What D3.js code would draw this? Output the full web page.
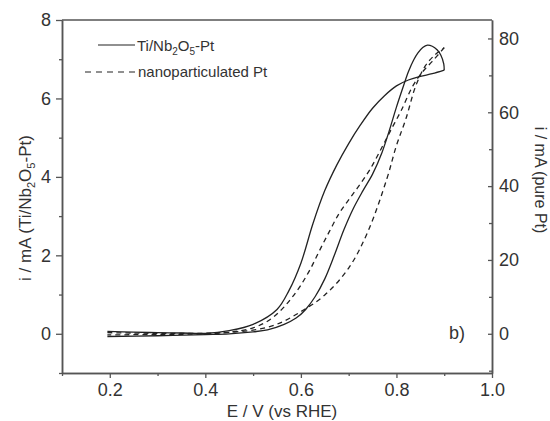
<!DOCTYPE html>
<html>
<head>
<meta charset="utf-8">
<script src="https://cdn.jsdelivr.net/npm/d3@7"></script>
<style>
    body { margin: 0; background: #fff; }
    text { font-family: "Liberation Sans", Arial, sans-serif; fill: #333; }
</style>
</head>
<body>
<div id="chart"></div>
<script>
// Ti/Nb2O5-Pt voltammogram, [E (V vs RHE), i (mA)] - left axis
const tiForward = [[0.195,0.06],[0.25,0.04],[0.3,0.03],[0.35,0.02],[0.4,0.01],[0.45,0.08],[0.5,0.24],
    [0.55,0.62],[0.575,1.1],[0.6,1.8],[0.625,2.8],[0.65,3.65],[0.675,4.3],[0.7,4.85],[0.725,5.33],
    [0.75,5.75],[0.775,6.07],[0.8,6.32],[0.825,6.47],[0.85,6.56],[0.875,6.63],[0.9,6.72]];
const tiReturn = [[0.9,6.72],[0.899,6.88],[0.893,7.1],[0.885,7.24],[0.875,7.33],[0.865,7.36],[0.855,7.3],
    [0.845,7.16],[0.836,6.98],[0.825,6.68],[0.815,6.33],[0.8,5.78],[0.785,5.18],[0.77,4.63],[0.75,4.07],
    [0.73,3.65],[0.71,3.2],[0.69,2.65],[0.67,2.0],[0.65,1.4],[0.63,0.95],[0.61,0.62],[0.59,0.4],
    [0.565,0.24],[0.53,0.1],[0.5,0.05],[0.45,0.0],[0.4,-0.02],[0.3,-0.05],[0.195,-0.07]];

// nanoparticulated Pt voltammogram, [E, i (mA)] - right axis
const ptForward = [[0.195,0.3],[0.25,0.2],[0.3,0.1],[0.35,0.1],[0.4,0.15],[0.45,0.4],[0.5,1.0],
    [0.55,2.6],[0.6,6.0],[0.65,10.5],[0.7,17.8],[0.74,27.6],[0.78,42],[0.8,51],[0.82,58.3],
    [0.84,67],[0.86,72.5],[0.88,75.5],[0.9,77.5]];
const ptReturn = [[0.9,77.5],[0.875,73.8],[0.855,71],[0.835,67.3],[0.81,60.5],[0.79,55.6],[0.77,50.6],
    [0.745,44.6],[0.72,39.8],[0.7,36.3],[0.68,32.6],[0.66,27.8],[0.64,22.8],[0.62,17.6],[0.6,13.2],
    [0.58,9.6],[0.56,6.6],[0.535,3.8],[0.5,1.6],[0.45,0.4],[0.4,0],[0.3,-0.2],[0.195,-0.3]];

// tick values
const xTicks = [0.2, 0.4, 0.6, 0.8, 1.0];
const xMinor = [0.1, 0.3, 0.5, 0.7, 0.9];
const leftTicks = [0, 2, 4, 6, 8];
const leftMinor = [-1, 1, 3, 5, 7];
const rightTicks = [0, 20, 40, 60, 80];
const rightMinor = [-10, 10, 30, 50, 70];

//chart size
const width = 550;
const height = 421;
const margin = {top: 20, right: 58, bottom: 48, left: 62};

const svg = d3.select("#chart")
    .append("svg")
        .attr("width", width)
        .attr("height", height);

//scales
const x = d3.scaleLinear()
    .domain([0.1, 1.0])
    .range([margin.left, width - margin.right]);
const yLeft = d3.scaleLinear()
    .domain([-1, 8])
    .range([height - margin.bottom, margin.top]);
const yRight = d3.scaleLinear()
    .domain([-10.625, 85])
    .range([height - margin.bottom, margin.top]);

const axisColor = "#555";

//frame top line
svg.append("line")
    .attr("x1", margin.left).attr("x2", width - margin.right)
    .attr("y1", margin.top).attr("y2", margin.top)
    .attr("stroke", axisColor)
    .attr("stroke-width", 1.5);

//helper to style an axis group
function styleAxis(g) {
    g.select(".domain").attr("stroke", axisColor).attr("stroke-width", 1.5);
    g.selectAll(".tick line").attr("stroke", axisColor).attr("stroke-width", 1.3);
    g.selectAll(".tick text")
        .attr("fill", "#333")
        .style("font-size", "18px")
        .style("font-family", "'Liberation Sans', Arial, sans-serif");
}

//bottom axis
svg.append("g")
    .attr("transform", `translate(0, ${height - margin.bottom})`)
    .call(d3.axisBottom(x).tickValues(xMinor).tickSize(3).tickFormat("").tickSizeOuter(0))
    .call(styleAxis);
svg.append("g")
    .attr("transform", `translate(0, ${height - margin.bottom})`)
    .call(d3.axisBottom(x).tickValues(xTicks).tickSize(5).tickPadding(5).tickFormat(d3.format(".1f")).tickSizeOuter(0))
    .call(styleAxis);

//left axis
svg.append("g")
    .attr("transform", `translate(${margin.left}, 0)`)
    .call(d3.axisLeft(yLeft).tickValues(leftMinor).tickSize(3).tickFormat("").tickSizeOuter(0))
    .call(styleAxis);
svg.append("g")
    .attr("transform", `translate(${margin.left}, 0)`)
    .call(d3.axisLeft(yLeft).tickValues(leftTicks).tickSize(6).tickPadding(5).tickSizeOuter(0))
    .call(styleAxis);

//right axis, ticks pointing inward
const rightAxisMinor = svg.append("g")
    .attr("transform", `translate(${width - margin.right}, 0)`)
    .call(d3.axisRight(yRight).tickValues(rightMinor).tickSize(0).tickFormat("").tickSizeOuter(0))
    .call(styleAxis);
rightAxisMinor.selectAll(".tick line").attr("x2", -3);
const rightAxis = svg.append("g")
    .attr("transform", `translate(${width - margin.right}, 0)`)
    .call(d3.axisRight(yRight).tickValues(rightTicks).tickSize(0).tickPadding(7).tickSizeOuter(0))
    .call(styleAxis);
rightAxis.selectAll(".tick line").attr("x2", -4);

//curves
const lineLeft = d3.line()
    .x(d => x(d[0]))
    .y(d => yLeft(d[1]))
    .curve(d3.curveCatmullRom.alpha(0.5));
const lineRight = d3.line()
    .x(d => x(d[0]))
    .y(d => yRight(d[1]))
    .curve(d3.curveCatmullRom.alpha(0.5));

[tiForward, tiReturn].forEach(function(arr) {
    svg.append("path")
        .attr("d", lineLeft(arr))
        .attr("fill", "none")
        .attr("stroke", "#222")
        .attr("stroke-width", 1.3);
});
[ptForward, ptReturn].forEach(function(arr) {
    svg.append("path")
        .attr("d", lineRight(arr))
        .attr("fill", "none")
        .attr("stroke", "#222")
        .attr("stroke-width", 1.3)
        .attr("stroke-dasharray", "5,4");
});

//legend
const legend = svg.append("g");
legend.append("line")
    .attr("x1", 98).attr("x2", 135).attr("y1", 45).attr("y2", 45)
    .attr("stroke", "#222").attr("stroke-width", 1.2);
const leg1 = legend.append("text")
    .attr("x", 137).attr("y", 51)
    .style("font-size", "15px");
leg1.append("tspan").text("Ti/Nb");
leg1.append("tspan").attr("dy", 4).style("font-size", "10px").text("2");
leg1.append("tspan").attr("dy", -4).text("O");
leg1.append("tspan").attr("dy", 4).style("font-size", "10px").text("5");
leg1.append("tspan").attr("dy", -4).text("-Pt");

legend.append("line")
    .attr("x1", 85).attr("x2", 135).attr("y1", 72).attr("y2", 72)
    .attr("stroke", "#222").attr("stroke-width", 1.2)
    .attr("stroke-dasharray", "6,5");
legend.append("text")
    .attr("x", 138).attr("y", 77)
    .style("font-size", "15px")
    .text("nanoparticulated Pt");

//axis titles
svg.append("text")
    .attr("x", 282).attr("y", 417)
    .attr("text-anchor", "middle")
    .style("font-size", "17px")
    .text("E / V (vs RHE)");

const leftTitle = svg.append("text")
    .attr("transform", "translate(31, 208) rotate(-90)")
    .attr("text-anchor", "middle")
    .style("font-size", "17px");
leftTitle.append("tspan").text("i / mA (Ti/Nb");
leftTitle.append("tspan").attr("dy", 4).style("font-size", "11px").text("2");
leftTitle.append("tspan").attr("dy", -4).text("O");
leftTitle.append("tspan").attr("dy", 4).style("font-size", "11px").text("5");
leftTitle.append("tspan").attr("dy", -4).text("-Pt)");

svg.append("text")
    .attr("transform", "translate(535, 180) rotate(90)")
    .attr("text-anchor", "middle")
    .style("font-size", "16px")
    .text("i / mA (pure Pt)");

//panel label
svg.append("text")
    .attr("x", 457).attr("y", 339)
    .attr("text-anchor", "middle")
    .style("font-size", "18px")
    .text("b)");
</script>
</body>
</html>
